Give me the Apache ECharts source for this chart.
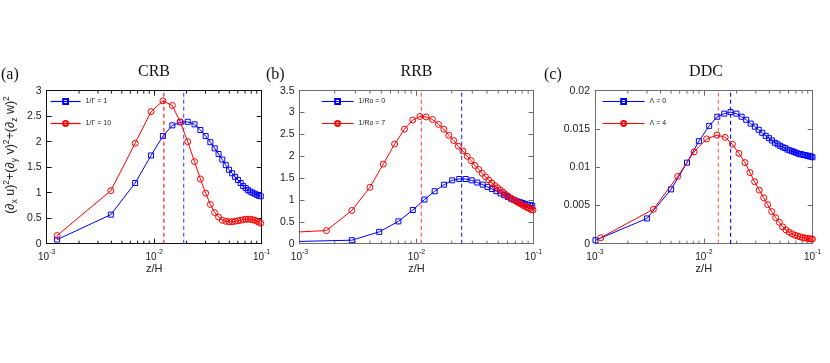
<!DOCTYPE html>
<html>
<head>
<meta charset="utf-8">
<script src="https://cdn.jsdelivr.net/npm/echarts@6/dist/echarts.min.js"></script>
<style>
html, body { margin: 0; padding: 0; background: #fff; }
#chart { width: 830px; height: 363px; }
</style>
</head>
<body>
<div id="chart"></div>
<script>
var zA = [0.00125, 0.00395, 0.00665, 0.00935, 0.01205, 0.01475, 0.01745, 0.0205, 0.0237, 0.0269,
    0.0301, 0.0333, 0.0365, 0.0397, 0.0430, 0.0463, 0.0497, 0.0531, 0.0566, 0.0601,
    0.0637, 0.0673, 0.0710, 0.0747, 0.0785, 0.0823, 0.0862, 0.0901, 0.0940, 0.0980];
var aBlue = [0.08, 0.57, 1.19, 1.73, 2.11, 2.32, 2.38, 2.39, 2.34, 2.23,
    2.11, 1.99, 1.87, 1.76, 1.65, 1.54, 1.45, 1.38, 1.31, 1.25,
    1.19, 1.13, 1.09, 1.05, 1.02, 1.00, 0.98, 0.96, 0.94, 0.93];
var aRed = [0.16, 1.04, 1.97, 2.59, 2.80, 2.71, 2.39, 2.00, 1.61, 1.27,
    0.99, 0.77, 0.61, 0.52, 0.46, 0.44, 0.43, 0.43, 0.44, 0.45,
    0.46, 0.47, 0.48, 0.48, 0.48, 0.47, 0.46, 0.44, 0.42, 0.40];

var zBBlue = [0.0003, 0.0028, 0.0048, 0.0070, 0.0093, 0.0117, 0.0143, 0.0172, 0.0202, 0.0232,
    0.0263, 0.0296, 0.0331, 0.0368, 0.0405, 0.0443, 0.0482, 0.0522, 0.0562, 0.0602,
    0.0643, 0.0684, 0.0725, 0.0766, 0.0808, 0.0850, 0.0892, 0.0934, 0.0976];
var bBlue = [0.02, 0.08, 0.27, 0.51, 0.77, 1.01, 1.20, 1.35, 1.45, 1.48,
    1.48, 1.45, 1.40, 1.35, 1.30, 1.25, 1.20, 1.15, 1.11, 1.07,
    1.03, 1.00, 0.97, 0.95, 0.93, 0.91, 0.89, 0.88, 0.87];
var zBRed = [0.0004, 0.0017, 0.0028, 0.0040, 0.0052, 0.0065, 0.0079, 0.0093, 0.0107, 0.0121,
    0.0137, 0.0154, 0.0171, 0.0189, 0.0208, 0.0228, 0.0249, 0.0271, 0.0293, 0.0316,
    0.0340, 0.0364, 0.0389, 0.0414, 0.0440, 0.0466, 0.0493, 0.0520, 0.0548, 0.0576,
    0.0604, 0.0633, 0.0662, 0.0691, 0.0720, 0.0750, 0.0780, 0.0810, 0.0840, 0.0870,
    0.0900, 0.0930, 0.0960, 0.0990];
var bRed = [0.22, 0.30, 0.76, 1.29, 1.82, 2.28, 2.62, 2.83, 2.91, 2.90,
    2.84, 2.73, 2.62, 2.48, 2.36, 2.23, 2.12, 2.00, 1.90, 1.79,
    1.70, 1.61, 1.53, 1.46, 1.39, 1.33, 1.28, 1.23, 1.18, 1.13,
    1.09, 1.05, 1.02, 0.99, 0.96, 0.93, 0.91, 0.88, 0.86, 0.84,
    0.82, 0.80, 0.78, 0.77];

var zCBlue = [0.00101, 0.0030, 0.0050, 0.0070, 0.0090, 0.0112, 0.0133, 0.0154, 0.0176, 0.0199,
    0.0222, 0.0245, 0.0269, 0.0294, 0.0319, 0.0344, 0.0370, 0.0396, 0.0422, 0.0449,
    0.0476, 0.0503, 0.0531, 0.0559, 0.0587, 0.0615, 0.0644, 0.0673, 0.0702, 0.0731,
    0.0760, 0.0790, 0.0820, 0.0850, 0.0880, 0.0910, 0.0940, 0.0970, 0.0995];
var cBlue = [0.00045, 0.0033, 0.0071, 0.0106, 0.0134, 0.0154, 0.0166, 0.0170, 0.0172, 0.0170,
    0.0166, 0.0162, 0.0157, 0.0153, 0.0149, 0.0145, 0.0141, 0.0138, 0.0135, 0.0132,
    0.0130, 0.0128, 0.0126, 0.0125, 0.0123, 0.0122, 0.0121, 0.0120, 0.0119, 0.0118,
    0.0117, 0.0117, 0.0116, 0.0116, 0.0115, 0.0115, 0.0114, 0.0114, 0.0113];
var zCRed = [0.00113, 0.00344, 0.00575, 0.00813, 0.0106, 0.0132, 0.0157, 0.0183, 0.0210, 0.0239,
    0.0265, 0.0293, 0.0323, 0.0355, 0.0386, 0.0420, 0.0457, 0.0493, 0.0530, 0.0568,
    0.0608, 0.0648, 0.0688, 0.0728, 0.0768, 0.0808, 0.0848, 0.0888, 0.0928, 0.0968,
    0.0995];
var cRed = [0.00078, 0.0045, 0.0088, 0.0120, 0.0137, 0.0142, 0.0139, 0.0130, 0.0118, 0.0106,
    0.0093, 0.0081, 0.0070, 0.0060, 0.0051, 0.0042, 0.0034, 0.0028, 0.0022, 0.0018,
    0.0015, 0.0013, 0.0011, 0.0010, 0.0009, 0.0008, 0.00075, 0.0007, 0.00065, 0.00062,
    0.0006];

// dashed peak positions [blue, red]
var peakA = [0.0188, 0.0123];
var peakB = [0.0243, 0.0110];
var peakC = [0.0176, 0.0136];

var minorX = [0.002, 0.003, 0.004, 0.005, 0.006, 0.007, 0.008, 0.009,
    0.02, 0.03, 0.04, 0.05, 0.06, 0.07, 0.08, 0.09];

var titles = ['CRB', 'RRB', 'DDC'];
var tags = ['(a)', '(b)', '(c)'];
var legendNames = [['1/Γ = 1', '1/Γ = 10'], ['1/Ro = 0', '1/Ro = 7'], ['Λ = 0', 'Λ = 4']];
var yMax = [3, 3.5, 0.02];
var yStep = [0.5, 0.5, 0.005];

var BLUE = '#0000ff';
var RED = '#ff0000';
var SANS = 'Liberation Sans';
var SERIF = 'Liberation Serif';

var grids = [
    { left: 46.7, top: 90.7, width: 215, height: 153 },
    { left: 299.5, top: 90.7, width: 234, height: 153 },
    { left: 595, top: 90.7, width: 217.7, height: 153 }
];
var frame = ['#111', '#6e6e6e', '#6e6e6e'];
var dashRed = ['#ff1a1a', '#ff5a5a', '#ff7070'];
var dashBlue = ['#4d5cff', '#3344ff', '#1a1aff'];
var legendPos = [[50, 98, 30], [321, 98, 32], [602, 98, 42]];
var titleX = [154, 416.5, 706];
var tagX = [1, 266, 544];

function zip(xs, ys) {
    return xs.map(function (x, i) { return [x, ys[i]]; });
}

function expLabel(v) {
    var e = Math.round(Math.log10(v));
    return '{b|10}{s|' + e + '}';
}

function edgeAxis(extra, col) {
    var ax = {
        axisLine: { show: true, onZero: false, lineStyle: { color: col, width: 1 } },
        axisTick: { show: true, inside: true, length: 5, lineStyle: { color: col } },
        splitLine: { show: false }
    };
    for (var k in extra) ax[k] = extra[k];
    return ax;
}

var xAxes = [], yAxes = [], series = [], legends = [], graphics = [];
var panels = [
    [zip(zA, aBlue), zip(zA, aRed), peakA],
    [zip(zBBlue, bBlue), zip(zBRed, bRed), peakB],
    [zip(zCBlue, cBlue), zip(zCRed, cRed), peakC]
];

for (var i = 0; i < 3; i++) {
    var lineCol = frame[i];
    xAxes.push(edgeAxis({
        type: 'log', logBase: 10, gridIndex: i, min: 0.001, max: 0.1, position: 'bottom',
        axisLabel: {
            formatter: expLabel, margin: 5,
            rich: {
                b: { fontFamily: SANS, fontSize: 10, color: '#222', lineHeight: 14, verticalAlign: 'bottom' },
                s: { fontFamily: SANS, fontSize: 7, color: '#222', verticalAlign: 'top' }
            }
        },
        name: 'z/H', nameLocation: 'middle', nameGap: 17,
        nameTextStyle: { fontFamily: SANS, fontSize: 11, color: '#222' }
    }, lineCol));
    xAxes.push(edgeAxis({
        type: 'log', logBase: 10, gridIndex: i, min: 0.001, max: 0.1, position: 'top',
        axisLabel: { show: false }
    }, lineCol));
    yAxes.push(edgeAxis({
        type: 'value', gridIndex: i, min: 0, max: yMax[i], interval: yStep[i], position: 'left',
        axisLabel: { fontFamily: SANS, fontSize: 10.5, color: '#222', margin: 5 }
    }, lineCol));
    yAxes.push(edgeAxis({
        type: 'value', gridIndex: i, min: 0, max: yMax[i], interval: yStep[i], position: 'right',
        axisLabel: { show: false }
    }, lineCol));

    var p = panels[i];
    // dashed verticals at the peaks
    series.push({
        type: 'line', xAxisIndex: 2 * i, yAxisIndex: 2 * i, silent: true, symbol: 'none', z: 2,
        data: [[p[2][0], 0], [p[2][0], yMax[i]]],
        lineStyle: { color: dashBlue[i], type: [4, 3], width: 1.2 }
    });
    series.push({
        type: 'line', xAxisIndex: 2 * i, yAxisIndex: 2 * i, silent: true, symbol: 'none', z: 2,
        data: [[p[2][1], 0], [p[2][1], yMax[i]]],
        lineStyle: { color: dashRed[i], type: [4, 3], width: 1.2 }
    });
    series.push({
        type: 'line', name: legendNames[i][0], xAxisIndex: 2 * i, yAxisIndex: 2 * i,
        data: p[0], symbol: 'rect', symbolSize: 5, showAllSymbol: true,
        lineStyle: { color: BLUE, width: 1 },
        itemStyle: { color: 'rgba(255,255,255,0)', borderColor: BLUE, borderWidth: 1 },
        emphasis: { disabled: true }, z: 3
    });
    series.push({
        type: 'line', name: legendNames[i][1], xAxisIndex: 2 * i, yAxisIndex: 2 * i,
        data: p[1], symbol: 'circle', symbolSize: 6, showAllSymbol: true,
        lineStyle: { color: RED, width: 1 },
        itemStyle: { color: 'rgba(255,255,255,0)', borderColor: RED, borderWidth: 1 },
        emphasis: { disabled: true }, z: 4
    });
    // minor ticks at 2..9 x 10^k on bottom and top edges
    series.push({
        type: 'custom', xAxisIndex: 2 * i, yAxisIndex: 2 * i, silent: true,
        data: minorX.map(function (v) { return [v, 0]; }),
        renderItem: (function (col) {
            return function (params, api) {
                var x = api.coord([api.value(0), api.value(1)])[0];
                var cs = params.coordSys;
                var st = { stroke: col, lineWidth: 1 };
                return {
                    type: 'group', children: [
                        { type: 'line', shape: { x1: x, y1: cs.y + cs.height, x2: x, y2: cs.y + cs.height - 3 }, style: st },
                        { type: 'line', shape: { x1: x, y1: cs.y, x2: x, y2: cs.y + 3 }, style: st }
                    ]
                };
            };
        })(lineCol)
    });

    legends.push({
        data: legendNames[i], orient: 'vertical', left: legendPos[i][0], top: legendPos[i][1],
        itemWidth: legendPos[i][2], itemHeight: 6, itemGap: 15, padding: 0, selectedMode: false,
        lineStyle: { width: 1.2 },
        textStyle: { fontFamily: SANS, fontSize: 7, color: '#222' }
    });

    graphics.push({
        type: 'text', x: titleX[i], y: 71.7,
        style: { text: titles[i], font: '16px ' + SERIF, fill: '#111', textAlign: 'center', textVerticalAlign: 'middle' }
    });
    graphics.push({
        type: 'text', x: tagX[i], y: 74.7,
        style: { text: tags[i], font: '16px ' + SERIF, fill: '#111', textAlign: 'left', textVerticalAlign: 'middle' }
    });
}

// y label, only on panel (a)
graphics.push({
    type: 'text', x: 11, y: 155, rotation: Math.PI / 2,
    style: {
        text: '(∂{sub|x} u){sup|2}+(∂{sub|y} v){sup|2}+(∂{sub|z} w){sup|2}',
        fontFamily: SANS, fontSize: 12.5, fill: '#222', lineHeight: 17,
        align: 'center', verticalAlign: 'middle',
        rich: {
            sub: { fontFamily: SANS, fontSize: 8.5, fill: '#222', verticalAlign: 'bottom' },
            sup: { fontFamily: SANS, fontSize: 8.5, fill: '#222', verticalAlign: 'top' }
        }
    }
});

var chart = echarts.init(document.getElementById('chart'));
chart.setOption({
    animation: false,
    backgroundColor: '#fff',
    textStyle: { fontFamily: SANS },
    grid: grids,
    xAxis: xAxes,
    yAxis: yAxes,
    legend: legends,
    series: series,
    graphic: graphics
});
</script>
</body>
</html>
